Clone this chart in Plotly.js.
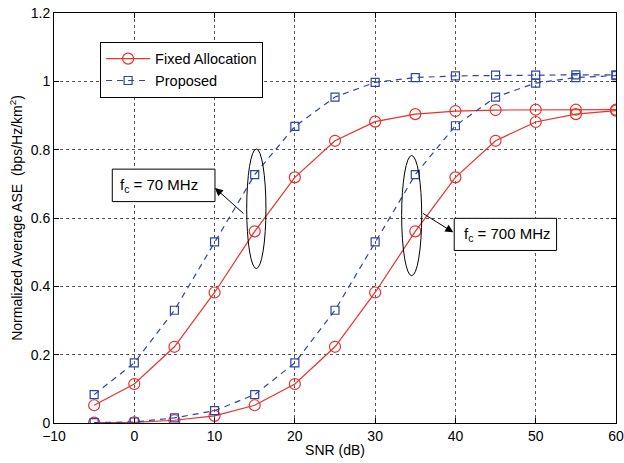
<!DOCTYPE html>
<html><head><meta charset="utf-8">
<script src="https://cdn.plot.ly/plotly-3.0.1.min.js"></script>
<style>html,body{margin:0;padding:0;background:#fff}#chart{width:624px;height:463px}</style>
</head><body><div id="chart"></div>
<script>
const snr = [-5,0,5,10,15,20,25,30,35,40,45,50,55,60];
const fixed70 = [0.052,0.114,0.223,0.382,0.561,0.719,0.826,0.882,0.904,0.913,0.916,0.917,0.917,0.917];
const prop70 = [0.083,0.176,0.330,0.530,0.727,0.868,0.954,0.997,1.011,1.016,1.018,1.018,1.019,1.019];
const fixed700 = [0.001,0.002,0.008,0.021,0.052,0.114,0.223,0.382,0.561,0.719,0.826,0.881,0.904,0.914];
const prop700 = [0.001,0.003,0.015,0.036,0.083,0.176,0.330,0.530,0.727,0.870,0.954,0.995,1.011,1.017];
const xTicks = [-10,0,10,20,30,40,50,60];
const yTicks = [0,0.2,0.4,0.6,0.8,1,1.2];
const yTickText = ['0','0.2','0.4','0.6','0.8','1','1.2'];

const red = '#e8322b', blue = '#2f44a8';
const fixedStyle = {mode:'lines+markers', line:{color:red,width:1.2}, marker:{symbol:'circle-open',size:11,color:red,line:{width:1.2,color:red}}};
const propStyle = {mode:'lines+markers', line:{color:blue,width:1.2,dash:'6px,5px'}, marker:{symbol:'square-open',size:8,color:blue,line:{width:1.2,color:blue}}};

const traces = [
  Object.assign({x:snr,y:fixed70,name:'Fixed Allocation',showlegend:true},fixedStyle),
  Object.assign({x:snr,y:prop70,name:'Proposed',showlegend:true},propStyle),
  Object.assign({x:snr,y:fixed700,name:'Fixed Allocation',showlegend:false},fixedStyle),
  Object.assign({x:snr,y:prop700,name:'Proposed',showlegend:false},propStyle)
];

const fam = 'Liberation Sans, Arial, sans-serif';
const font = {family:fam, size:14, color:'#000'};
const axisCommon = {showline:true, mirror:'allticks', linecolor:'#000', linewidth:1, ticks:'inside', ticklen:5, tickcolor:'#000',
  showgrid:true, gridcolor:'#555', griddash:'dot', gridwidth:1, zeroline:false, tickfont:font};

const layout = {
  width:624, height:463,
  margin:{l:54, r:8, t:13, b:40},
  paper_bgcolor:'#fff', plot_bgcolor:'#fff',
  font:font,
  xaxis:Object.assign({range:[-10,60], tickvals:xTicks, title:{text:'SNR (dB)', font:{family:fam,size:14,color:'#000'}, standoff:2}}, axisCommon),
  yaxis:Object.assign({range:[0,1.2], tickvals:yTicks, ticktext:yTickText, title:{text:'Normalized Average ASE  (bps/Hz/km<sup>2</sup>)', font:{family:fam,size:14,color:'#000'}, standoff:4}}, axisCommon),
  legend:{x:0.082, y:0.93, xanchor:'left', yanchor:'top', bgcolor:'#fff', bordercolor:'#000', borderwidth:1, font:{family:fam,size:14.5,color:'#000'}, tracegroupgap:0, itemwidth:44},
  shapes:[
    {type:'circle', xref:'x', yref:'y', x0:14.0, x1:16.4, y0:0.452, y1:0.802, line:{color:'#000',width:1}},
    {type:'circle', xref:'x', yref:'y', x0:33.3, x1:35.8, y0:0.431, y1:0.783, line:{color:'#000',width:1}},
    {type:'rect', xref:'x', yref:'y', x0:-2.74, x1:10.05, y0:0.648, y1:0.743, line:{color:'#000',width:1}, fillcolor:'#fff', layer:'above'},
    {type:'rect', xref:'x', yref:'y', x0:39.85, x1:52.6, y0:0.505, y1:0.599, line:{color:'#000',width:1}, fillcolor:'#fff', layer:'above'}
  ],
  annotations:[
    {xref:'x', yref:'y', x:-2.0, y:0.696, xanchor:'left', yanchor:'middle', showarrow:false, text:'f<sub>c</sub> = 70 MHz', font:{family:fam,size:15,color:'#000'}},
    {xref:'x', yref:'y', x:40.8, y:0.552, xanchor:'left', yanchor:'middle', showarrow:false, text:'f<sub>c</sub> = 700 MHz', font:{family:fam,size:15,color:'#000'}},
    {xref:'x', yref:'y', axref:'x', ayref:'y', x:10.05, y:0.688, ax:13.79, ay:0.609, text:'', showarrow:true, arrowhead:2, arrowsize:1.6, arrowwidth:1, arrowcolor:'#000'},
    {xref:'x', yref:'y', axref:'x', ayref:'y', x:39.73, y:0.558, ax:35.79, ay:0.616, text:'', showarrow:true, arrowhead:2, arrowsize:1.6, arrowwidth:1, arrowcolor:'#000'}
  ]
};
Plotly.newPlot('chart', traces, layout, {displayModeBar:false, staticPlot:true});
</script></body></html>
